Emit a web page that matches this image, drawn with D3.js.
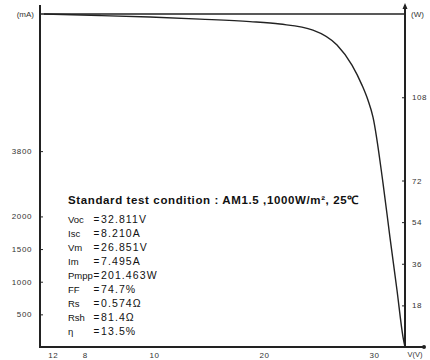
<!DOCTYPE html>
<html><head><meta charset="utf-8">
<script src="https://cdn.jsdelivr.net/npm/d3@7"></script>
<style>body{margin:0;background:#fff}svg{display:block}text{font-family:"Liberation Sans",Arial,sans-serif}</style>
</head><body><svg id="c" width="430" height="360"></svg>
<script>
// I-V curve (voltage V, current mA)
const voltage = [0, 5.09, 9.64, 14.18, 18.73, 21.45, 24.45, 26.64, 28.0, 28.91, 29.45, 29.91, 30.82, 31.45, 32.09, 32.64, 32.82];
const current = [5099, 5076, 5053, 5022, 4984, 4946, 4854, 4624, 4318, 4011, 3782, 3522, 2511, 1684, 873, 153, 0];
const leftTicks = [500, 1000, 1500, 2000, 3000];
const leftTickLabels = ["500", "1000", "1500", "2000", "3800"];
const rightTicks = [18, 36, 54, 72, 108];
const rightTickLabels = ["18", "36", "54", "72", "108"];
const xTicks = [0.8, 3.7, 10, 20, 30];
const xTickLabels = ["12", "8", "10", "20", "30"];
const paramNames = ["Voc", "Isc", "Vm", "Im", "Pmpp", "FF", "Rs", "Rsh", "η"];
const paramValues = ["32.811V", "8.210A", "26.851V", "7.495A", "201.463W", "74.7%", "0.574Ω", "81.4Ω", "13.5%"];
const title = "Standard test condition : AM1.5 ,1000W/m², 25℃";

const svg = d3.select("#c");
const x = d3.scaleLinear().domain([0, 32.82]).range([44, 405]);
const yL = d3.scaleLinear().domain([0, 5100]).range([347, 14]);
const yR = d3.scaleLinear().domain([0, 144]).range([347, 14]);
const ink = "#222";

// top frame line
svg.append("line").attr("x1", 40).attr("x2", 405).attr("y1", 14).attr("y2", 14).attr("stroke", ink).attr("stroke-width", 1.5);

// left axis
const gL = svg.append("g").attr("transform", "translate(40,0)")
  .call(d3.axisLeft(yL).tickValues(leftTicks).tickFormat((d, i) => leftTickLabels[i]).tickSize(-3).tickPadding(8));
gL.select(".domain").remove();
gL.selectAll("text").attr("font-size", 8).attr("letter-spacing", 0.6).attr("fill", "#333");
gL.selectAll("line").attr("stroke", ink);
svg.append("line").attr("x1", 40).attr("x2", 40).attr("y1", 5).attr("y2", 348).attr("stroke", ink).attr("stroke-width", 2);
svg.append("text").attr("x", 34).attr("y", 17).attr("text-anchor", "end").attr("font-size", 8).attr("fill", "#333").text("(mA)");

// right axis
const gR = svg.append("g").attr("transform", "translate(405,0)")
  .call(d3.axisRight(yR).tickValues(rightTicks).tickFormat((d, i) => rightTickLabels[i]).tickSize(-3).tickPadding(7));
gR.select(".domain").remove();
gR.selectAll("text").attr("font-size", 8).attr("letter-spacing", 0.5).attr("fill", "#333");
gR.selectAll("line").attr("stroke", ink);
svg.append("line").attr("x1", 405).attr("x2", 405).attr("y1", 5).attr("y2", 348).attr("stroke", ink).attr("stroke-width", 2);
svg.append("path").attr("d", "M405,3 L402.5,9 L407.5,9 Z").attr("fill", ink);
svg.append("text").attr("x", 411).attr("y", 17).attr("font-size", 8).attr("fill", "#333").text("(W)");

// bottom axis
const gB = svg.append("g").attr("transform", "translate(0,347)")
  .call(d3.axisBottom(x).tickValues(xTicks).tickFormat((d, i) => xTickLabels[i]).tickSize(0).tickPadding(5));
gB.select(".domain").remove();
gB.selectAll("text").attr("font-size", 8).attr("letter-spacing", 0.5).attr("fill", "#333");
svg.append("line").attr("x1", 39).attr("x2", 424).attr("y1", 347).attr("y2", 347).attr("stroke", ink).attr("stroke-width", 2);
svg.append("circle").attr("cx", 424).attr("cy", 347).attr("r", 2).attr("fill", ink);
svg.append("text").attr("x", 415).attr("y", 357).attr("text-anchor", "middle").attr("font-size", 7.5).attr("fill", "#333").text("V(V)");

// curve
const pts = voltage.map((v, i) => [v, current[i]]);
svg.append("path").datum(pts)
  .attr("d", d3.line().x(d => x(d[0])).y(d => yL(d[1])).curve(d3.curveMonotoneX))
  .attr("fill", "none").attr("stroke", ink).attr("stroke-width", 1.4);

// annotation
svg.append("text").attr("x", 68).attr("y", 204).attr("font-size", 11.5).attr("letter-spacing", 0.62)
  .attr("font-weight", "bold").attr("fill", "#111").text(title);
const rows = svg.append("g").selectAll("g").data(paramNames).join("g")
  .attr("transform", (d, i) => `translate(0,${222.5 + i * 14.1})`);
rows.append("text").attr("x", 68).attr("font-size", 9.5).attr("fill", "#111").text(d => d);
rows.append("text").attr("x", 93.5).attr("font-size", 10).attr("fill", "#111").text("=");
rows.append("text").attr("x", 101).attr("font-size", 10.5).attr("letter-spacing", 1.1).attr("fill", "#111").text((d, i) => paramValues[i]);
</script></body></html>
